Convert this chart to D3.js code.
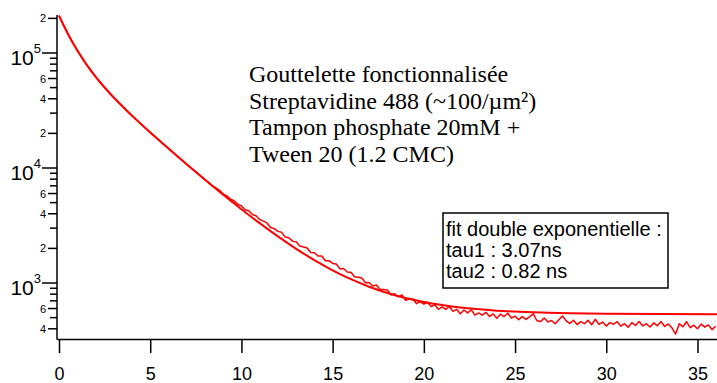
<!DOCTYPE html>
<html><head><meta charset="utf-8">
<script src="https://cdn.jsdelivr.net/npm/d3@7"></script>
<style>body{margin:0;background:#fff;overflow:hidden}</style>
</head><body><svg id="c" width="717" height="383"></svg>
<script>
// ---- data ----
const earlyTimes  = [0,0.25,0.5,0.75,1,1.5,2,2.5,3,3.5,4,4.5,5,5.5,6,6.5,7,7.5,8];
const earlyCounts = [211500,174500,145800,123300,105500,79700,62400,50100,41000,34100,28550,24080,20400,17340,14770,12650,10760,9280,7920];
const tailStart = 8.2, tailStep = 0.2;
const tailCounts = [
 7520,7017,6707,6388,5953,5730,5371,5188,4837,4690,
 4343,4258,3942,3845,3573,3453,3330,3040,2973,2813,
 2758,2513,2479,2314,2279,2101,2060,2015,1841,1834,
 1718,1718,1564,1563,1479,1464,1326,1336,1245,1239,
 1133,1120,1105,1005,1010,943,962,877,877,869,
 788,807,759,789,707,724,727,661,689,656,
 680,624,648,591,619,589,625,567,591,541,
 583,550,586,526,549,526,556,512,538,494,
 536,511,546,496,515,480,510,483,510,540,
 470,462,497,459,472,442,480,517,469,445,
 475,435,461,443,474,433,484,437,458,422,
 453,438,461,422,443,413,452,428,462,423,
 443,414,450,426,462,419,441,408,360,442,
 417,461,409,430,400,439,413,432,393,421];
const fitTimes  = [0,0.25,0.5,0.75,1,1.5,2,2.5,3,3.5,4,4.5,5,5.5,6,6.5,7,7.5,8,9,10,11,12,13,14,15,16,17,18,19,20,22,24,26,28,30,33,36.1];
const fitCounts = [211500,174500,145800,123300,105500,79700,62400,50100,41000,34100,28550,24080,20400,17340,14770,12615,10790,9237,7920,5866,4384,3314,2542,1984,1581,1290,1080,929,819,740,683,612,575,556,546,541,537,535];
const xTicks = [0,5,10,15,20,25,30,35];
const yMajor = [1e3,1e4,1e5];
const yMajorExp = ["3","4","5"];
const yLabeledMinor = [400,600,2000,4000,6000,20000,40000,60000,200000];
const yLabeledMinorText = ["4","6","2","4","6","2","4","6","2"];
const yMinor = [500,700,800,900,3000,5000,7000,8000,9000,30000,50000,70000,80000,90000];
const annotation = ["Gouttelette fonctionnalisée","Streptavidine 488 (~100/µm²)","Tampon phosphate 20mM +","Tween 20 (1.2 CMC)"];
const legendLines = ["fit double exponentielle :","tau1 : 3.07ns","tau2 : 0.82 ns"];

// ---- build ----
const svg = d3.select("#c");
const x = d3.scaleLinear().domain([-0.11, 36.07]).range([57, 717]);
const y = d3.scaleLog().domain([326, 2.14e5]).range([339, 15]);
const sans = "'Liberation Sans', Arial, sans-serif";
const serif = "'Liberation Serif', 'Times New Roman', serif";

const dataPts = earlyTimes.map((t,i)=>[t, earlyCounts[i]])
  .concat(tailCounts.map((c,i)=>[tailStart + i*tailStep, c]));
const fitPts = fitTimes.map((t,i)=>[t, fitCounts[i]]);

svg.append("defs").append("clipPath").attr("id","plot")
  .append("rect").attr("x",57).attr("y",0).attr("width",660).attr("height",339);

const g = svg.append("g").attr("clip-path","url(#plot)");
g.append("path").datum(fitPts)
  .attr("d", d3.line().x(d=>x(d[0])).y(d=>y(d[1])).curve(d3.curveMonotoneX))
  .attr("fill","none").attr("stroke","#ff0000").attr("stroke-width",2);
g.append("path").datum(dataPts)
  .attr("d", d3.line().x(d=>x(d[0])).y(d=>y(d[1])))
  .attr("fill","none").attr("stroke","#ff0000").attr("stroke-width",1.5).attr("stroke-linejoin","round");

// x axis
const xa = svg.append("g").attr("transform","translate(0,339)")
  .call(d3.axisBottom(x).tickValues(xTicks).tickSize(14).tickSizeOuter(0).tickPadding(14).tickFormat(d3.format("d")));
xa.select(".domain").attr("stroke","#000").attr("stroke-width",1.5);
xa.selectAll(".tick line").attr("stroke","#000").attr("stroke-width",1.5);
xa.selectAll(".tick text").attr("font-family",sans).attr("font-size",18).attr("fill","#000");

// y axis line
svg.append("line").attr("x1",57).attr("x2",57).attr("y1",y(2.14e5)).attr("y2",339.75)
  .attr("stroke","#000").attr("stroke-width",1.5);
// unlabeled minor ticks
svg.selectAll(".ymin").data(yMinor).join("line")
  .attr("x1",50).attr("x2",57).attr("y1",d=>y(d)).attr("y2",d=>y(d))
  .attr("stroke","#000").attr("stroke-width",1.5);
// labeled minor ticks
svg.selectAll(".ylm").data(yLabeledMinor).join("line")
  .attr("x1",48).attr("x2",57).attr("y1",d=>y(d)).attr("y2",d=>y(d))
  .attr("stroke","#000").attr("stroke-width",1.5);
svg.selectAll(".ylmt").data(yLabeledMinor).join("text")
  .attr("x",46).attr("y",d=>y(d)+4).attr("text-anchor","end")
  .attr("font-family",sans).attr("font-size",11).text((d,i)=>yLabeledMinorText[i]);
// major ticks
svg.selectAll(".ymaj").data(yMajor).join("line")
  .attr("x1",42).attr("x2",57).attr("y1",d=>y(d)).attr("y2",d=>y(d))
  .attr("stroke","#000").attr("stroke-width",1.5);
const mt = svg.selectAll(".ymajt").data(yMajor).join("text")
  .attr("x",41).attr("y",d=>y(d)+11.5).attr("text-anchor","end")
  .attr("font-family",sans).attr("font-size",21);
mt.append("tspan").text("10");
mt.append("tspan").attr("dy",-11.5).attr("font-size",13).text((d,i)=>yMajorExp[i]);

// annotation
svg.append("g").selectAll("text").data(annotation).join("text")
  .attr("x",249).attr("y",(d,i)=>82+i*26.5)
  .attr("font-family",serif).attr("font-size",24).attr("fill","#000").text(d=>d);

// legend box
svg.append("rect").attr("x",443).attr("y",213).attr("width",225).attr("height",75)
  .attr("fill","#fff").attr("stroke","#000").attr("stroke-width",1.5);
svg.append("g").selectAll("text").data(legendLines).join("text")
  .attr("x",446).attr("y",(d,i)=>235.5+i*21.3)
  .attr("font-family",sans).attr("font-size",20).attr("fill","#000").text(d=>d);
</script></body></html>
